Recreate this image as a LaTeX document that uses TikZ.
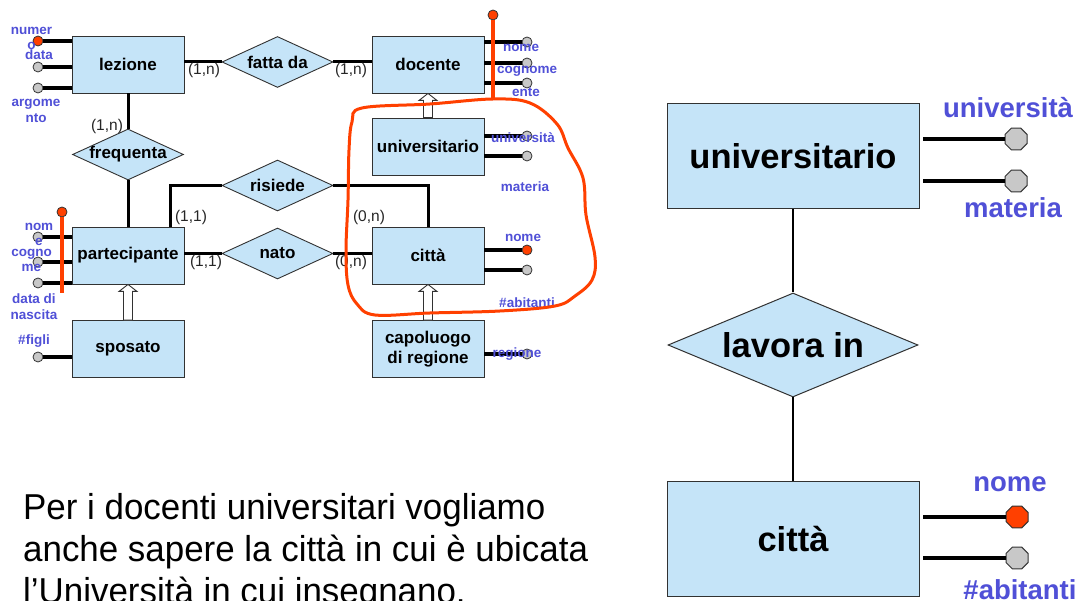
\documentclass[tikz,border=0pt]{standalone}
\usepackage{fontspec}
\setmainfont{Liberation Sans}
\newfontfamily\bodyfont[FakeStretch=0.97]{Liberation Sans}
\usetikzlibrary{shapes.geometric,calc}
\definecolor{eblue}{RGB}{197,228,248}
\definecolor{lblue}{RGB}{80,80,215}
\definecolor{kred}{RGB}{255,64,0}
\definecolor{agray}{RGB}{200,200,200}
\definecolor{edgec}{RGB}{50,50,50}
\newcommand\zw[1]{\makebox[0pt]{#1}}
\newcommand\isaarrow[2]{%
  \draw[isa] ($(#1.north)+(-4.5,0)$) -- ($(#2.south)+(-4.5,7)$) -- ($(#2.south)+(-9,7)$)
    -- (#2.south) -- ($(#2.south)+(9,7)$) -- ($(#2.south)+(4.5,7)$) -- ($(#1.north)+(4.5,0)$) -- cycle;}
\begin{document}
\begin{tikzpicture}[x=1pt,y=-1pt,
 ent/.style={rectangle,draw=edgec,fill=eblue,line width=0.9pt,inner sep=0pt,minimum width=112pt,minimum height=57pt,align=center,font=\bfseries\fontsize{17}{20}\selectfont},
 rel/.style={diamond,draw=edgec,fill=eblue,line width=0.9pt,inner sep=0pt,minimum width=111pt,minimum height=51pt,aspect=2.18,font=\bfseries\fontsize{17}{20}\selectfont},
 conn/.style={line width=3pt},
 att/.style={circle,draw=edgec,fill=agray,line width=0.8pt,inner sep=0pt,minimum size=10pt},
 katt/.style={att,fill=kred},
 attline/.style={line width=3.5pt},
 lab/.style={text=lblue,font=\bfseries\fontsize{13.5}{15.5}\selectfont,align=center,inner sep=0pt},
 card/.style={text=black!85,font=\fontsize{15.5}{17}\selectfont,inner sep=0pt},
 keyline/.style={draw=kred,line width=3.5pt},
 isa/.style={draw=edgec,fill=white,line width=0.9pt},
 bent/.style={ent,minimum width=252pt,minimum height=105pt,line width=1pt,font=\bfseries\fontsize{34.5}{38}\selectfont},
 brel/.style={rel,minimum width=250pt,minimum height=104pt,aspect=2.4,line width=1pt,font=\bfseries\fontsize{34.5}{38}\selectfont},
 bconn/.style={line width=2.6pt},
 oct/.style={regular polygon,regular polygon sides=8,draw=edgec,fill=agray,line width=1pt,inner sep=0pt,minimum size=23.8pt},
 koct/.style={oct,fill=kred},
 battline/.style={line width=4pt},
 blab/.style={text=lblue,font=\bfseries\fontsize{27.5}{30}\selectfont,inner sep=0pt},
 body/.style={anchor=base west,inner sep=0pt,font=\bodyfont\fontsize{36}{41.5}\selectfont}
]
\useasboundingbox (0,0) rectangle (1080,601);
\fill[white] (0,0) rectangle (1080,601);
\clip (0,0) rectangle (1080,601);

% ---------------- left diagram: entities and relationships
\node[ent] (lez) at (128,64.5) {lezione};
\node[ent] (doc) at (428,64.5) {docente};
\node[ent] (uni) at (428,146.5) {universitario};
\node[ent] (par) at (128,255.5) {partecipante};
\node[ent] (cit) at (428,255.5) {città};
\node[ent] (spo) at (128,349) {sposato};
\node[ent] (cap) at (428,349) {capoluogo\\di regione};

\node[rel] (fat) at (277.5,62) {\zw{fatta da}};
\node[rel] (fre) at (128,154.5) {\zw{frequenta}};
\node[rel] (ris) at (277.5,185.5) {\zw{risiede}};
\node[rel] (nat) at (277.5,253.5) {\zw{nato}};

% connectors
\draw[conn] (fat.west) -- (fat.west -| lez.east);
\draw[conn] (fat.east) -- (fat.east -| doc.west);
\draw[conn] (lez.south) -- (fre.north);
\draw[conn] (fre.south) -- (par.north);
\draw[conn] (ris.west) -| ([xshift=-14pt]par.north east);
\draw[conn] (ris.east) -| (cit.north);
\draw[conn] (nat.west) -- (nat.west -| par.east);
\draw[conn] (nat.east) -- (nat.east -| cit.west);

% cardinalities
\node[card] at (204,70) {(1,n)};
\node[card] at (351,70) {(1,n)};
\node[card] at (107,126) {(1,n)};
\node[card] at (191,217) {(1,1)};
\node[card] at (369,217) {(0,n)};
\node[card] at (206,262) {(1,1)};
\node[card] at (351,262) {(0,n)};

% generalizations
\isaarrow{uni}{doc}
\isaarrow{cap}{cit}
\isaarrow{spo}{par}

% attributes
\node[katt] (lzA) at (38,41) {};
\node[att] (lzB) at (38,67) {};
\node[att] (lzC) at (38,88) {};
\draw[attline] (lzA) -- (lzA -| lez.west);
\draw[attline] (lzB) -- (lzB -| lez.west);
\draw[attline] (lzC) -- (lzC -| lez.west);

\node[att] (dcA) at (527,42) {};
\node[att] (dcB) at (527,63) {};
\node[att] (dcC) at (527,83) {};
\draw[attline] (dcA) -- (dcA -| doc.east);
\draw[attline] (dcB) -- (dcB -| doc.east);
\draw[attline] (dcC) -- (dcC -| doc.east);

\node[att] (unA) at (527,136) {};
\node[att] (unB) at (527,156) {};
\draw[attline] (unA) -- (unA -| uni.east);
\draw[attline] (unB) -- (unB -| uni.east);

\node[att] (paA) at (38,237) {};
\node[att] (paB) at (38,262) {};
\node[att] (paC) at (38,283) {};
\draw[attline] (paA) -- (paA -| par.west);
\draw[attline] (paB) -- (paB -| par.west);
\draw[attline] (paC) -- (paC -| par.west);

\node[katt] (ciA) at (527,250) {};
\node[att] (ciB) at (527,270) {};
\draw[attline] (ciA) -- (ciA -| cit.east);
\draw[attline] (ciB) -- (ciB -| cit.east);

\node[att] (spA) at (38,357) {};
\draw[attline] (spA) -- (spA -| spo.west);

\node[att] (caA) at (527,354) {};
\draw[attline] (caA) -- (caA -| cap.east);

% keys
\node[katt] (dKey) at (493,15) {};
\draw[keyline] (dKey) -- ($(dKey |- doc.south)+(0,6)$);
\node[katt] (pKey) at (62,212) {};
\draw[keyline] (pKey) -- ($(pKey |- par.south)+(0,9)$);

% attribute labels
\node[lab] at (31.5,38.5) {numer\\o};
\node[lab] at (39,55) {data};
\node[lab] at (36,111) {argome\\nto};
\node[lab] at (521,48) {nome};
\node[lab] at (527,71) {cognome};
\node[lab] at (526,92) {ente};
\node[lab] at (523,138) {università};
\node[lab] at (525,187) {materia};
\node[lab] at (39,234.5) {nom\\e};
\node[lab] at (31.5,260.5) {cogno\\me};
\node[lab] at (34,306.5) {data di\\nascita};
\node[lab] at (523,238) {nome};
\node[lab] at (527,303) {\#abitanti};
\node[lab] at (34,341) {\#figli};
\node[lab] at (517,354) {regione};

% freehand red outline
\draw[kred,line width=3pt] plot[smooth cycle,tension=0.6] coordinates {
 (362,108) (430,104) (493,99) (530,103) (557,124) (568,148) (583,178) (586,215)
 (595,257) (592,280) (575,296) (555,306) (500,311) (430,313) (375,315) (357,304)
 (348,285) (346,250) (348,200) (349,150) (352,122)};

% ---------------- right diagram
\node[bent] (uni2) at (793,156.5) {universitario};
\node[brel] (lav) at (793,345) {\zw{lavora in}};
\node[bent,minimum height=115pt] (cit2) at (793,539.5) {città};
\draw[bconn] (uni2.south) -- (lav.north);
\draw[bconn] (lav.south) -- (cit2.north);

\node[oct] (u2A) at (1016,139) {};
\node[oct] (u2B) at (1016,181) {};
\draw[battline] (u2A) -- ([xshift=3pt]u2A -| uni2.east);
\draw[battline] (u2B) -- ([xshift=3pt]u2B -| uni2.east);
\node[koct] (c2A) at (1017,517) {};
\node[oct] (c2B) at (1017,558) {};
\draw[battline] (c2A) -- ([xshift=3pt]c2A -| cit2.east);
\draw[battline] (c2B) -- ([xshift=3pt]c2B -| cit2.east);

\node[blab] at (1008,108) {università};
\node[blab] at (1013,208) {materia};
\node[blab] at (1010,484) {nome};
\node[blab] at (1020,590) {\#abitanti};

% ---------------- text
\node[body] (t1) at (23,520) {Per i docenti universitari vogliamo};
\node[body] (t2) at (23,561.5) {anche sapere la città in cui è ubicata};
\node[body] (t3) at (23,603) {l’Università in cui insegnano.};
\end{tikzpicture}
\end{document}
